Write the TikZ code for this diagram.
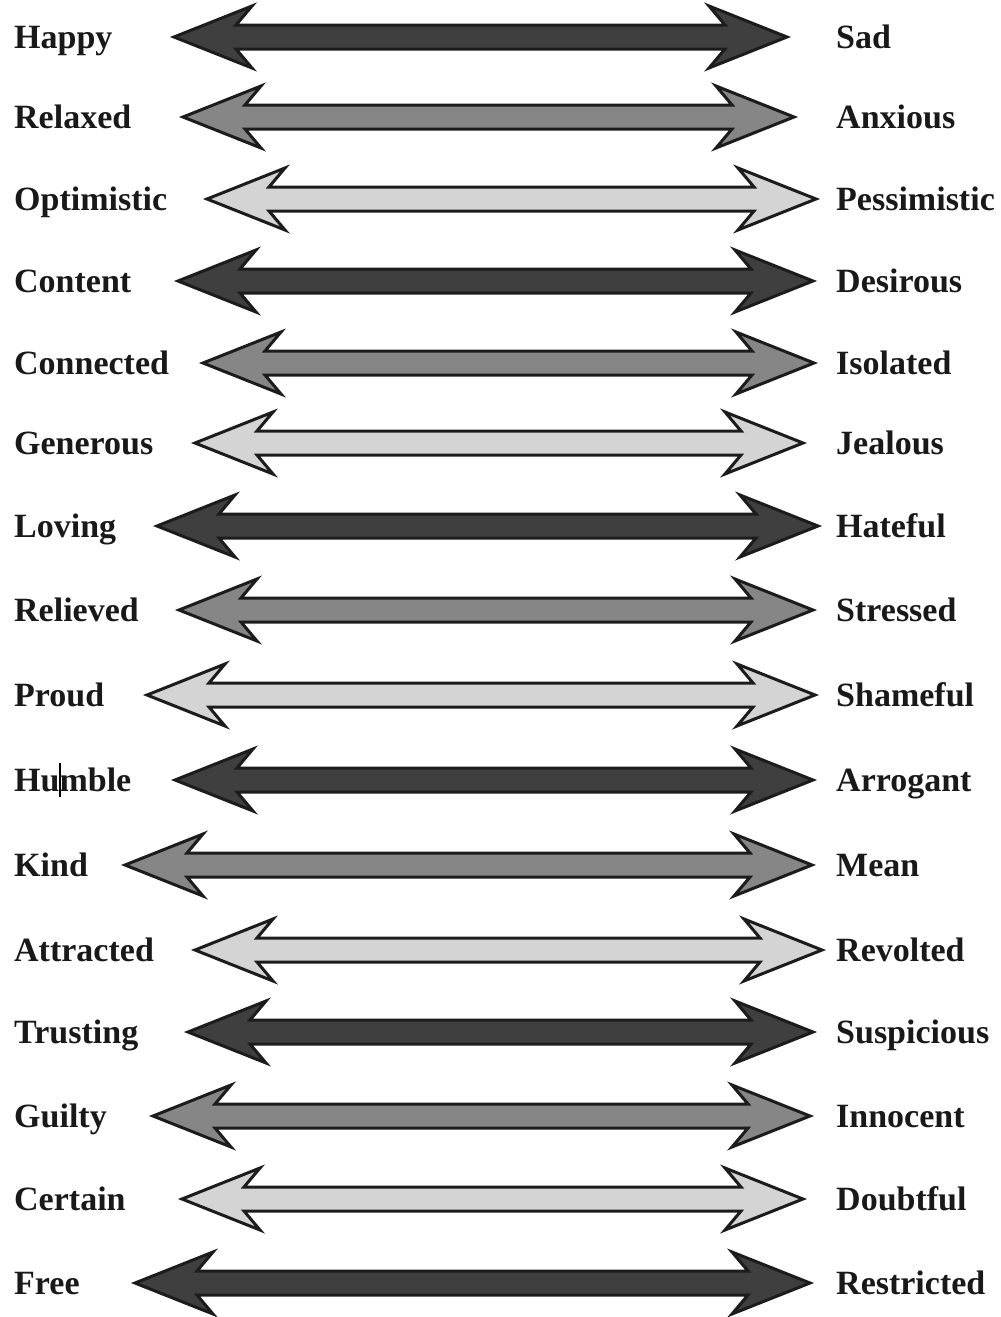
\documentclass[tikz,border=0pt]{standalone}
\usepackage{fontspec}
\setmainfont{Liberation Serif}
\usetikzlibrary{calc}

\definecolor{darkfill}{HTML}{3F3F3F}
\definecolor{midfill}{HTML}{868686}
\definecolor{lightfill}{HTML}{D4D4D4}
\definecolor{edge}{HTML}{1C1C1C}

\tikzset{
  word/.style={font=\fontsize{34}{40}\selectfont\bfseries, text=black!90, inner sep=0pt},
  arrowline/.style={draw=edge, line width=3pt, line join=miter},
}

% double-headed arrow with notched heads, from tip #1 to tip #2
\newcommand{\feelarrow}[3]{%
  \draw[arrowline, fill=#3] (#1) -- ++(78,-31) -- ++(-16,19) -- ($(#2)+(-62,-12)$)
    -- ++(-16,-19) -- (#2) -- ++(-78,31) -- ++(16,-19) -- ($(#1)+(62,12)$)
    -- ++(16,19) -- cycle;}

\begin{document}
\begin{tikzpicture}[x=1pt, y=-1pt]
    \useasboundingbox (0,0) rectangle (1001,1317);

    \foreach \y/\xl/\xr/\lft/\rgt/\tone [count=\i] in {
        37/174/787/Happy/Sad/darkfill,
        117/183/794/Relaxed/Anxious/midfill,
        199/207/816/Optimistic/Pessimistic/lightfill,
        281/178/813/Content/Desirous/darkfill,
        363/203/814/Connected/Isolated/midfill,
        443/195/803/Generous/Jealous/lightfill,
        526/157/818/Loving/Hateful/darkfill,
        610/179/813/Relieved/Stressed/midfill,
        695/147/815/Proud/Shameful/lightfill,
        780/175/813/Humble/Arrogant/darkfill,
        865/125/812/Kind/Mean/midfill,
        950/195/822/Attracted/Revolted/lightfill,
        1032/188/813/Trusting/Suspicious/darkfill,
        1116/153/810/Guilty/Innocent/midfill,
        1199/182/803/Certain/Doubtful/lightfill,
        1283/135/810/Free/Restricted/darkfill}
    {
        \node[word, anchor=base west] (l\i) at (14,\y+11) {\lft};
        \node[word, anchor=base west] (r\i) at (836,\y+11) {\rgt};
        \coordinate (tl\i) at (\xl,\y);
        \coordinate (tr\i) at (\xr,\y);
        \feelarrow{tl\i}{tr\i}{\tone}
    }

    % text cursor left in Humble
    \draw[line width=1.2pt] (60,763) -- (60,797);

\end{tikzpicture}
\end{document}
